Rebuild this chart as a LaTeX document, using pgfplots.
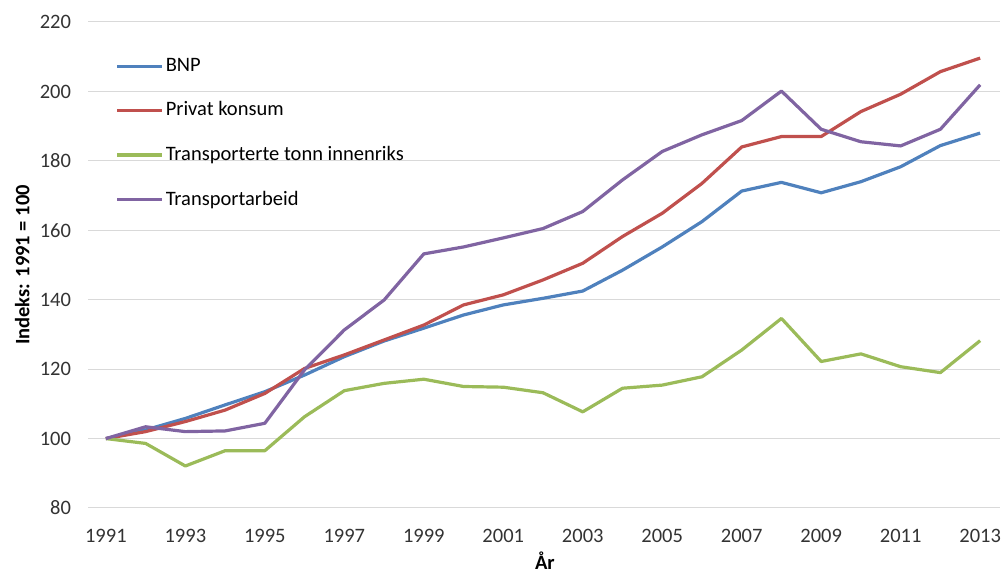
\documentclass[border=0pt]{standalone}
\usepackage{pgfplots}
\pgfplotsset{compat=1.18}
\usepackage{fontspec}
\setmainfont{Carlito}
\definecolor{cBNP}{HTML}{4F81BD}
\definecolor{cPK}{HTML}{C0504D}
\definecolor{cTT}{HTML}{9BBB59}
\definecolor{cTA}{HTML}{8064A2}
\begin{document}
\fontsize{20.5pt}{24pt}\selectfont
\begin{tikzpicture}
\begin{axis}[
  scale only axis,
  width=912pt, height=486pt,
  xmin=1990.55, xmax=2013.5,
  ymin=80, ymax=220,
  ytick={80,100,...,220},
  xtick={1991,1993,...,2013},
  /pgf/number format/1000 sep={},
  /pgf/number format/assume math mode=true,
  axis line style={draw=none},
  major tick length=0pt,
  ymajorgrids,
  grid style={draw=black!15, line width=1pt},
  tick label style={font=\fontsize{20.5pt}{24pt}\selectfont, text=black!80},
  xticklabel style={yshift=-14pt},
  yticklabel style={xshift=-10pt},
  xlabel={\textbf{År}},
  ylabel={\textbf{Indeks: 1991 = 100}},
  label style={font=\fontsize{20.5pt}{24pt}\selectfont},
  x label style={at={(axis description cs:0.501,0)}, yshift=-53pt, anchor=center, inner sep=0pt},
  y label style={at={(axis description cs:-0.072,0.5)}, anchor=center},
  legend style={draw=none, fill=none, at={(axis description cs:0.03,0.930)}, anchor=north west,
    font=\fontsize{20.5pt}{24pt}\selectfont, row sep=23.3pt, inner sep=0pt},
  legend cell align=left,
  legend image code/.code={\draw[#1] (0pt,0pt) -- (45pt,0pt);},
  every axis plot/.append style={line width=3.2pt, line join=round},
]
\addplot[cBNP] coordinates {
(1991,100) (1992,102.5) (1993,105.8) (1994,109.7) (1995,113.5) (1996,118.3) (1997,123.6) (1998,128.1) (1999,131.8) (2000,135.6) (2001,138.5) (2002,140.4) (2003,142.5) (2004,148.5) (2005,155.2) (2006,162.5) (2007,171.3) (2008,173.8) (2009,170.8) (2010,174) (2011,178.3) (2012,184.4) (2013,188)
};
\addlegendentry{BNP}
\addplot[cPK] coordinates {
(1991,100) (1992,102) (1993,104.9) (1994,108.2) (1995,113) (1996,120.2) (1997,124.1) (1998,128.4) (1999,132.7) (2000,138.5) (2001,141.4) (2002,145.7) (2003,150.5) (2004,158.2) (2005,164.9) (2006,173.5) (2007,184) (2008,187) (2009,187) (2010,194.2) (2011,199.2) (2012,205.7) (2013,209.6)
};
\addlegendentry{Privat konsum}
\addplot[cTT] coordinates {
(1991,100) (1992,98.6) (1993,92.1) (1994,96.5) (1995,96.5) (1996,106.3) (1997,113.8) (1998,115.9) (1999,117.1) (2000,115) (2001,114.8) (2002,113.2) (2003,107.7) (2004,114.5) (2005,115.4) (2006,117.8) (2007,125.5) (2008,134.6) (2009,122.2) (2010,124.4) (2011,120.7) (2012,119) (2013,128.2)
};
\addlegendentry{Transporterte tonn innenriks}
\addplot[cTA] coordinates {
(1991,100) (1992,103.4) (1993,102) (1994,102.2) (1995,104.4) (1996,119.8) (1997,131.3) (1998,139.9) (1999,153.2) (2000,155.2) (2001,157.8) (2002,160.5) (2003,165.4) (2004,174.5) (2005,182.7) (2006,187.5) (2007,191.6) (2008,200.1) (2009,189.1) (2010,185.5) (2011,184.3) (2012,189.1) (2013,201.9)
};
\addlegendentry{Transportarbeid}
\end{axis}
\pgfresetboundingbox
\path[use as bounding box] (-88pt,-67pt) rectangle (915pt,508pt);
\end{tikzpicture}
\end{document}
